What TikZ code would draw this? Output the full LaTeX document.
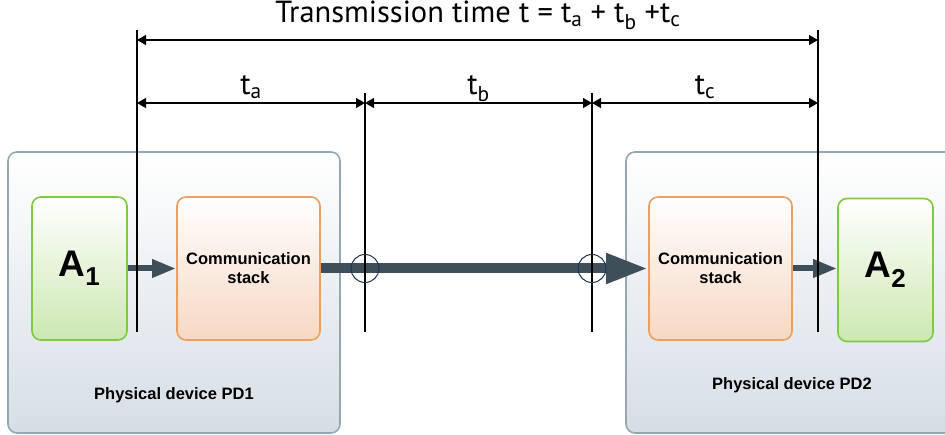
\documentclass[tikz,border=0pt]{standalone}
\usepackage{fontspec}
\setmainfont{Liberation Sans}
\newfontfamily\dimfont{PT Sans}
\usetikzlibrary{arrows.meta}

\definecolor{devline}{HTML}{93A7B4}
\definecolor{devfill}{HTML}{D6DEE5}
\definecolor{appline}{HTML}{7DCB3F}
\definecolor{appfill}{HTML}{CCE8B2}
\definecolor{stackline}{HTML}{EE9F5E}
\definecolor{stackfill}{HTML}{F7D8C3}
\definecolor{flowcol}{HTML}{3E4F59}
\definecolor{ringcol}{HTML}{1C3353}

\begin{document}
\begin{tikzpicture}[x=1pt,y=-1pt,
 device/.style={draw=devline,line width=1.6pt,rounded corners=9pt,top color=white,bottom color=devfill,
   minimum width=332pt,minimum height=281pt},
 app/.style={draw=appline,line width=1.6pt,rounded corners=9pt,top color=white,bottom color=appfill,
   minimum width=95pt,minimum height=143pt,font=\bfseries\fontsize{37}{40}\selectfont},
 stack/.style={draw=stackline,line width=1.6pt,rounded corners=9pt,top color=white,bottom color=stackfill,
   minimum width=143pt,minimum height=143pt,align=center,font=\bfseries\fontsize{16.5}{19}\selectfont},
 devlabel/.style={font=\bfseries\fontsize{16.5}{19}\selectfont},
 flow/.style={draw=flowcol,line width=6pt,-{Triangle[length=24pt,width=17pt]}},
 ring/.style={circle,draw=ringcol,line width=1pt,minimum size=28pt,inner sep=0pt},
 tick/.style={line width=1.3pt},
 dim/.style={line width=1.3pt,{Triangle[length=9pt,width=10pt]}-{Triangle[length=9pt,width=10pt]}},
 dimlabel/.style={anchor=base,font=\dimfont\fontsize{30.5}{34}\selectfont}]
\useasboundingbox (0,0) rectangle (945,435);

\node[device](pd1) at (174,292.5){};
\node[device,minimum width=334pt](pd2) at (793,292.5){};
\node[devlabel] at (174,395){Physical device PD1};
\node[devlabel] at (792,385){Physical device PD2};

\node[app](a1) at (79.5,268.5){A\textsubscript{1}};
\node[stack](cs1) at (248.5,268.5){Communication\\stack};
\node[stack](cs2) at (720.5,268.5){Communication\\stack};
\node[app](a2) at (885.5,270){A\textsubscript{2}};

\draw[flow] (a1) -- (cs1);
\draw[flow] (cs2.east) -- (a2.west |- cs2.east);
\draw[flow,line width=10pt,-{Triangle[length=42pt,width=28pt]}] (cs1) -- (cs2);

% time marks
\foreach \x [count=\i from 0] in {137,365,592,818}
  \coordinate (d\i) at (\x,103);
\foreach \i/\top in {0/30,1/93,2/93,3/30}
  \draw[tick] (d\i |- 0,\top) coordinate (top\i) -- (d\i |- 0,332);

\node[ring](j1) at (d1 |- cs1.east){};
\node[ring](j2) at (d2 |- cs1.east){};

\draw[dim] (top0 |- 0,40) -- (top3 |- 0,40);
\node[dimlabel] at (478,23){Transmission time t = t\textsubscript{a} + t\textsubscript{b} +t\textsubscript{c}};

\foreach \a/\b/\s in {0/1/a,1/2/b,2/3/c}
{\draw[dim] (d\a) -- (d\b);
 \path (d\a) -- (d\b) node[dimlabel,pos=0.5,yshift=8pt]{t\textsubscript{\s}};
}
\end{tikzpicture}
\end{document}
